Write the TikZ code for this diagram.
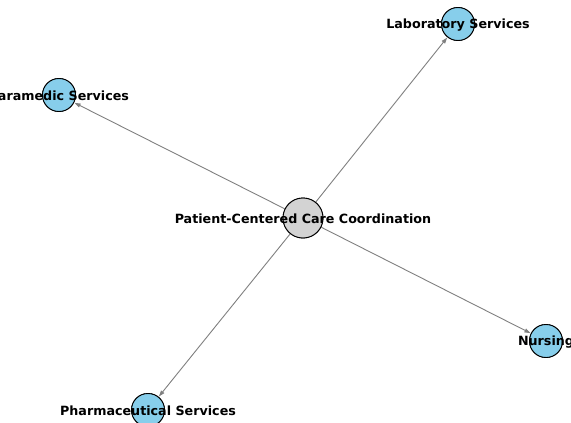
\documentclass[tikz,border=0pt]{standalone}
\usepackage{fontspec}
\setmainfont{DejaVu Sans}
\usetikzlibrary{arrows.meta}
\definecolor{skyblue}{HTML}{87CEEB}
\definecolor{lightgray}{HTML}{D3D3D3}
\definecolor{edgegray}{HTML}{808080}
\tikzset{
  hub/.style={circle, draw=black, line width=0.9pt, fill=lightgray, minimum size=40pt, inner sep=0pt},
  leaf/.style={circle, draw=black, line width=0.9pt, fill=skyblue, minimum size=33pt, inner sep=0pt},
  caption/.style={font=\fontsize{12.7}{14}\selectfont\bfseries, inner sep=0pt, text=black},
  link/.style={draw=edgegray, line width=0.9pt, -{Triangle[length=6pt,width=4pt]}, shorten >=0.5pt}
}
\begin{document}
\begin{tikzpicture}[x=1pt, y=-1pt]
  \useasboundingbox (0,0) rectangle (571,423);
  \clip (0,0) rectangle (571,423);
  \fill[white] (0,0) rectangle (571,423);
  % circle positions (named, used as link endpoints)
  \node[hub]  (care)  at (303,218) {};
  \node[leaf] (lab)   at (458,24)  {};
  \node[leaf] (para)  at (59,95)   {};
  \node[leaf] (nurse) at (546,341) {};
  \node[leaf] (pharm) at (148,410) {};
  % directed links from the coordination hub
  \draw[link] (care) -- (lab);
  \draw[link] (care) -- (para);
  \draw[link] (care) -- (nurse);
  \draw[link] (care) -- (pharm);
  % redraw circles over the links
  \node[hub]  at (care)  {};
  \node[leaf] at (lab)   {};
  \node[leaf] at (para)  {};
  \node[leaf] at (nurse) {};
  \node[leaf] at (pharm) {};
  % labels
  \node[caption] (tcare)  at ([yshift=-1pt]care)  {Patient-Centered Care Coordination};
  \node[caption] (tlab)   at ([yshift=-1pt]lab)   {Laboratory Services};
  \node[caption] (tpara)  at ([yshift=-1pt]para)  {Paramedic Services};
  \node[caption] (tnurse) at ([yshift=-1pt]nurse) {Nursing};
  \node[caption] (tpharm) at ([yshift=-1pt]pharm) {Pharmaceutical Services};
\end{tikzpicture}
\end{document}
